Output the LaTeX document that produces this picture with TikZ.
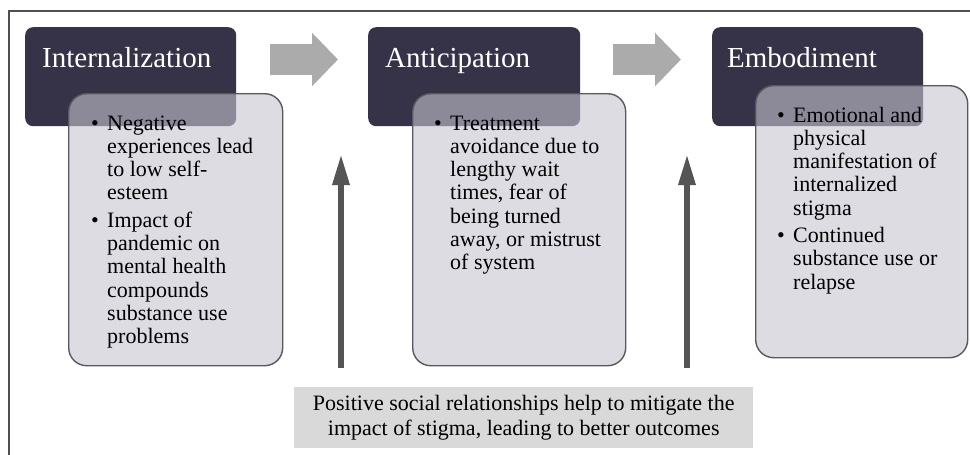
\documentclass[tikz,border=0pt]{standalone}
\usepackage{fontspec}
\setmainfont{Liberation Serif}
\usetikzlibrary{arrows.meta}
\definecolor{cDark}{RGB}{54,51,72}
\definecolor{cLight}{RGB}{198,197,207}
\definecolor{cEdge}{RGB}{88,88,94}
\definecolor{cArrow}{RGB}{171,171,171}
\definecolor{cVert}{RGB}{85,85,85}
\definecolor{cNote}{RGB}{217,217,217}
\definecolor{cFrame}{RGB}{80,80,80}
\newcommand{\bl}{\makebox[16pt][l]{\textbullet}}
\newcommand{\ind}{\makebox[16pt][l]{}}
\begin{document}
\begin{tikzpicture}[x=1pt,y=-1pt,
  headbox/.style={fill=cDark, rounded corners=8pt, inner sep=0pt, anchor=north west},
  bodybox/.style={fill=cLight, fill opacity=0.6, draw=cEdge, draw opacity=1, line width=1.4pt, rounded corners=18pt, inner sep=0pt, anchor=north west},
  titletext/.style={text=white, font=\fontsize{29}{33}\selectfont, inner sep=0pt, anchor=base west},
  bullettext/.style={text=black, font=\fontsize{22}{23.3}\selectfont, inner sep=0pt, anchor=base west},
  blockarrow/.style={draw=cArrow, line width=31pt, -{Triangle[length=26pt,width=52pt]}},
  uparrow/.style={draw=cVert, line width=6pt, -{Triangle[length=31pt,width=16pt]}},
  notebox/.style={fill=cNote, inner sep=0pt, anchor=north west, align=center, font=\fontsize{22}{25}\selectfont}
]
\useasboundingbox (0,0) rectangle (970,455);
\fill[white] (0,0) rectangle (970,455);
% frame
\draw[cFrame, line width=1.6pt] (9,470) -- (9,11) -- (990,11);

% header boxes
\node[headbox, minimum width=211pt, minimum height=99pt] (d1) at (25,27) {};
\node[headbox, minimum width=212pt, minimum height=99pt] (d2) at (368,27) {};
\node[headbox, minimum width=211pt, minimum height=99pt] (d3) at (712,27) {};

\node[titletext] (t1) at (42,67) {Internalization};
\node[titletext] (t2) at (385,67) {Anticipation};
\node[titletext] (t3) at (727,67) {Embodiment};

% body boxes
\node[bodybox, minimum width=214pt, minimum height=272pt] (b1) at (68,93) {};
\node[bodybox, minimum width=213pt, minimum height=272pt] (b2) at (412,93) {};
\node[bodybox, minimum width=212pt, minimum height=272pt] (b3) at (755,85) {};

\node[bullettext] (x1) at (91,130) {\begin{tabular}[t]{@{}l@{}}
\bl Negative\\
\ind experiences lead\\
\ind to low self-\\
\ind esteem\\[4pt]
\bl Impact of\\
\ind pandemic on\\
\ind mental health\\
\ind compounds\\
\ind substance use\\
\ind problems
\end{tabular}};

\node[bullettext] (x2) at (434,130) {\begin{tabular}[t]{@{}l@{}}
\bl Treatment\\
\ind avoidance due to\\
\ind lengthy wait\\
\ind times, fear of\\
\ind being turned\\
\ind away, or mistrust\\
\ind of system
\end{tabular}};

\node[bullettext] (x3) at (777,122) {\begin{tabular}[t]{@{}l@{}}
\bl Emotional and\\
\ind physical\\
\ind manifestation of\\
\ind internalized\\
\ind stigma\\[4pt]
\bl Continued\\
\ind substance use or\\
\ind relapse
\end{tabular}};

% horizontal block arrows
\coordinate (h1s) at (270,59.5);
\coordinate (h1e) at (338,59.5);
\coordinate (h2s) at (613,59.5);
\coordinate (h2e) at (681,59.5);
\draw[blockarrow] (h1s) -- (h1e);
\draw[blockarrow] (h2s) -- (h2e);

% note box
\node[notebox, minimum width=459pt, minimum height=61pt] (n) at (294,387)
  {Positive social relationships help to mitigate the\\impact of stigma, leading to better outcomes};

% vertical arrows
\coordinate (v1b) at (341,368);
\coordinate (v1t) at (341,154);
\coordinate (v2b) at (687,368);
\coordinate (v2t) at (687,154);
\draw[uparrow] (v1b) -- (v1t);
\draw[uparrow] (v2b) -- (v2t);
\end{tikzpicture}
\end{document}
